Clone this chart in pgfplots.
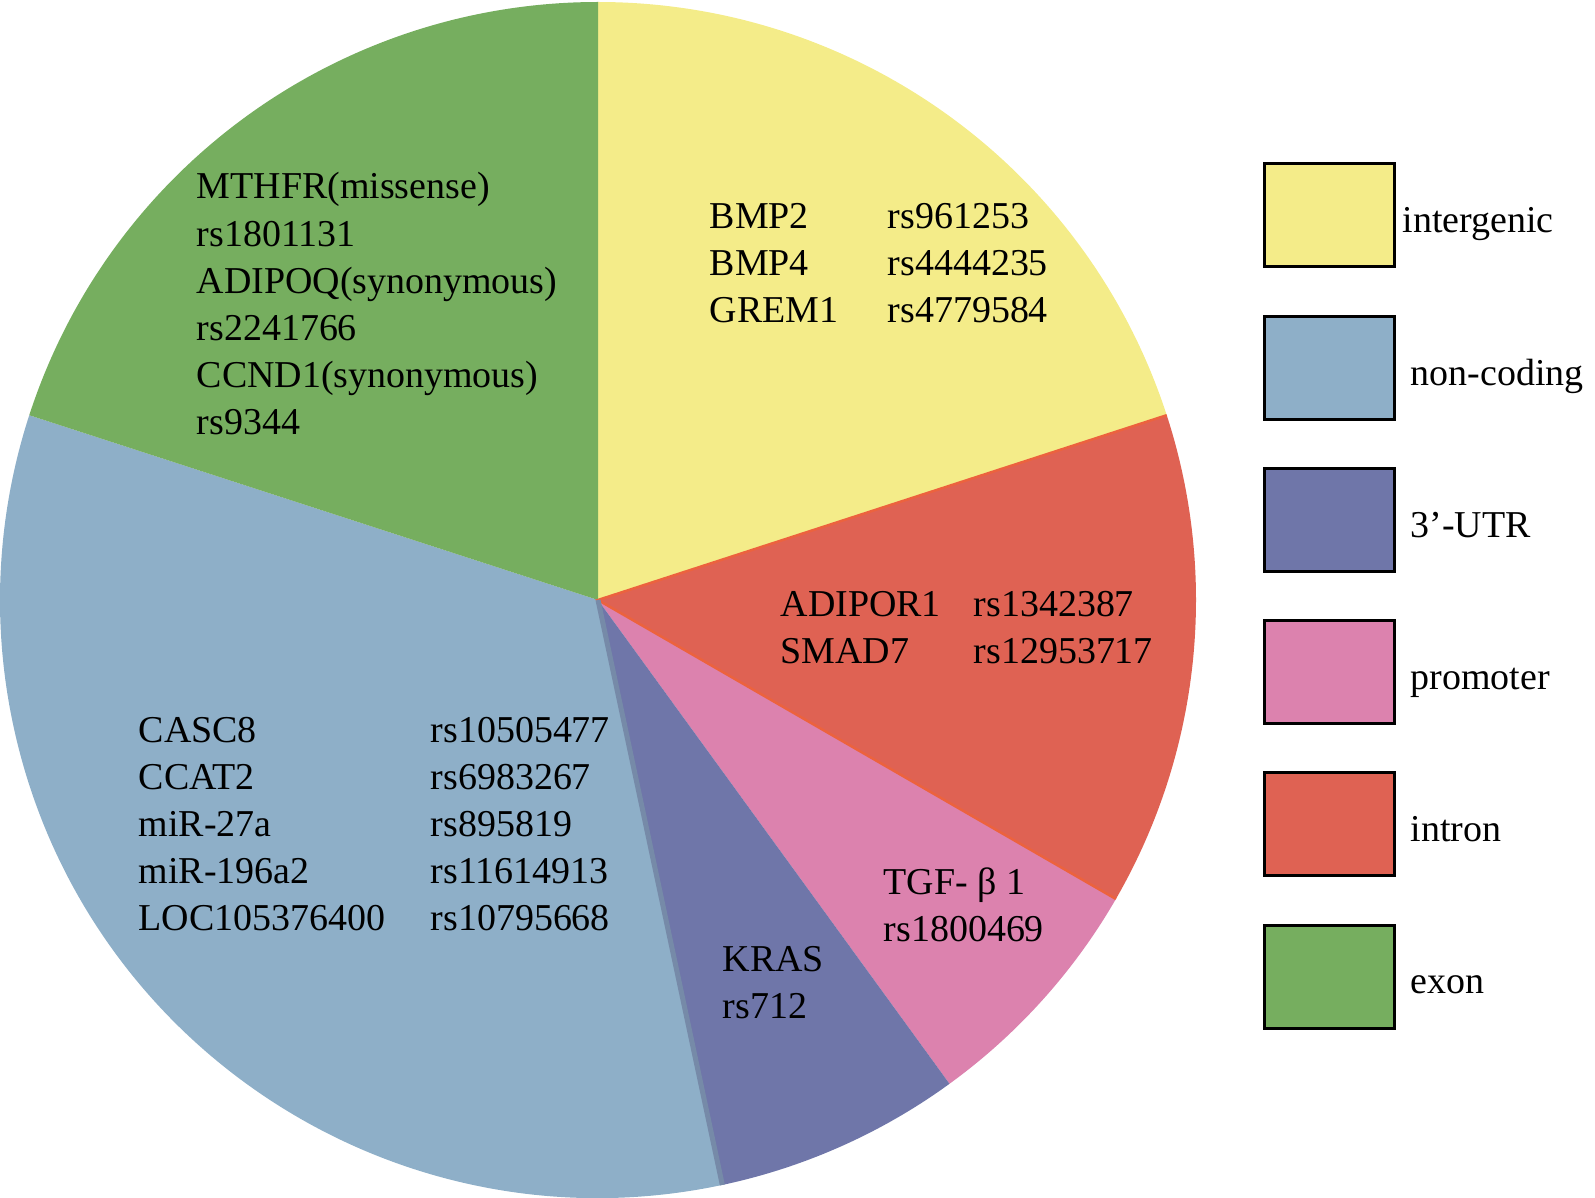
\documentclass[border=0pt]{standalone}
\usepackage{pgfplots}
\usepackage{pgfplotstable}
\pgfplotsset{compat=1.18}
\usepackage{fontspec}
\setmainfont{Liberation Serif}

\definecolor{cIG}{HTML}{F4EC89}
\definecolor{cIN}{HTML}{DF6253}
\definecolor{cPR}{HTML}{DC82AE}
\definecolor{cUT}{HTML}{6F76A9}
\definecolor{cNC}{HTML}{8EAFC8}
\definecolor{cEX}{HTML}{76AE5F}

% number of SNPs per region, clockwise from 12 o'clock
\pgfplotstableread{
count col
3 cIG
2 cIN
1 cPR
1 cUT
5 cNC
3 cEX
}\piedata

\begin{document}
\begin{tikzpicture}[font=\fontsize{10.8}{13.4}\selectfont,
    lbl/.style={anchor=base west, inner sep=0pt}]
\begin{axis}[
    width=159.5mm, height=119.8mm, scale only axis,
    xmin=0, xmax=1595, ymin=0, ymax=1198,
    y dir=reverse, hide axis, clip=false]

    % slices (overlay: bezier control points must not grow the page)
    \def\cum{0}
    \pgfplotsforeachungrouped \i in {0,...,5}{%
        \pgfplotstablegetelem{\i}{count}\of\piedata \let\cnt\pgfplotsretval
        \pgfplotstablegetelem{\i}{col}\of\piedata \let\cc\pgfplotsretval
        \pgfmathsetmacro\sa{90-360*\cum/15}
        \pgfmathsetmacro\ea{90-360*(\cum+\cnt)/15}
        \edef\temp{\noexpand\fill[\cc, overlay] (axis cs:598,600)
            -- ([shift={(\sa:59.8mm)}]axis cs:598,600)
            arc[start angle=\sa, end angle=\ea, radius=59.8mm] -- cycle;}
        \temp
        \pgfmathsetmacro\cum{\cum+\cnt}
    }
    % thin seams between slices
    \draw[overlay, line width=0.25mm, color={rgb,255:red,236;green,98;blue,62}]
        ([shift={(18:59.8mm)}]axis cs:598,600) -- (axis cs:598,600)
        -- ([shift={(-30:59.8mm)}]axis cs:598,600);
    \draw[overlay, line width=0.5mm, color={rgb,255:red,118;green,138;blue,168}]
        (axis cs:598,600) -- ([shift={(-78:59.8mm)}]axis cs:598,600);

    % exon
    \node[lbl] at (axis cs:196,199) {MTHFR(missense)};
    \node[lbl] at (axis cs:196,246.2) {rs1801131};
    \node[lbl] at (axis cs:196,293.4) {ADIPOQ(synonymous)};
    \node[lbl] at (axis cs:196,340.6) {rs2241766};
    \node[lbl] at (axis cs:196,387.8) {CCND1(synonymous)};
    \node[lbl] at (axis cs:196,435) {rs9344};

    % intergenic
    \node[lbl] at (axis cs:709,229) {BMP2};
    \node[lbl] at (axis cs:887,229) {rs961253};
    \node[lbl] at (axis cs:709,275.7) {BMP4};
    \node[lbl] at (axis cs:887,275.7) {rs4444235};
    \node[lbl] at (axis cs:709,322.4) {GREM1};
    \node[lbl] at (axis cs:887,322.4) {rs4779584};

    % intron
    \node[lbl] at (axis cs:780,617) {ADIPOR1};
    \node[lbl] at (axis cs:973,617) {rs1342387};
    \node[lbl] at (axis cs:780,664) {SMAD7};
    \node[lbl] at (axis cs:973,664) {rs12953717};

    % promoter
    \node[lbl] at (axis cs:883,895) {TGF- β 1};
    \node[lbl] at (axis cs:883,941) {rs1800469};

    % 3'-UTR
    \node[lbl] at (axis cs:722,972) {KRAS};
    \node[lbl] at (axis cs:722,1018) {rs712};

    % non-coding
    \node[lbl] at (axis cs:138,742.6) {CASC8};
    \node[lbl] at (axis cs:430,742.6) {rs10505477};
    \node[lbl] at (axis cs:138,789.5) {CCAT2};
    \node[lbl] at (axis cs:430,789.5) {rs6983267};
    \node[lbl] at (axis cs:138,836.4) {miR-27a};
    \node[lbl] at (axis cs:430,836.4) {rs895819};
    \node[lbl] at (axis cs:138,883.3) {miR-196a2};
    \node[lbl] at (axis cs:430,883.3) {rs11614913};
    \node[lbl] at (axis cs:138,930.2) {LOC105376400};
    \node[lbl] at (axis cs:430,930.2) {rs10795668};

    % legend
    \draw[fill=cIG, line width=0.3mm] (axis cs:1264,164) rectangle (axis cs:1394,267);
    \draw[fill=cNC, line width=0.3mm] (axis cs:1264,316.2) rectangle (axis cs:1394,419.2);
    \draw[fill=cUT, line width=0.3mm] (axis cs:1264,468.4) rectangle (axis cs:1394,571.4);
    \draw[fill=cPR, line width=0.3mm] (axis cs:1264,620.6) rectangle (axis cs:1394,723.6);
    \draw[fill=cIN, line width=0.3mm] (axis cs:1264,772.8) rectangle (axis cs:1394,875.8);
    \draw[fill=cEX, line width=0.3mm] (axis cs:1264,925) rectangle (axis cs:1394,1028);
    \node[lbl] at (axis cs:1402,233) {intergenic};
    \node[lbl] at (axis cs:1410,385.2) {non-coding};
    \node[lbl] at (axis cs:1410,537.4) {3’-UTR};
    \node[lbl] at (axis cs:1410,689.6) {promoter};
    \node[lbl] at (axis cs:1410,841.8) {intron};
    \node[lbl] at (axis cs:1410,994) {exon};
\end{axis}
\pgfresetboundingbox
\path (current axis.south west) rectangle (current axis.north east);
\end{tikzpicture}
\end{document}
